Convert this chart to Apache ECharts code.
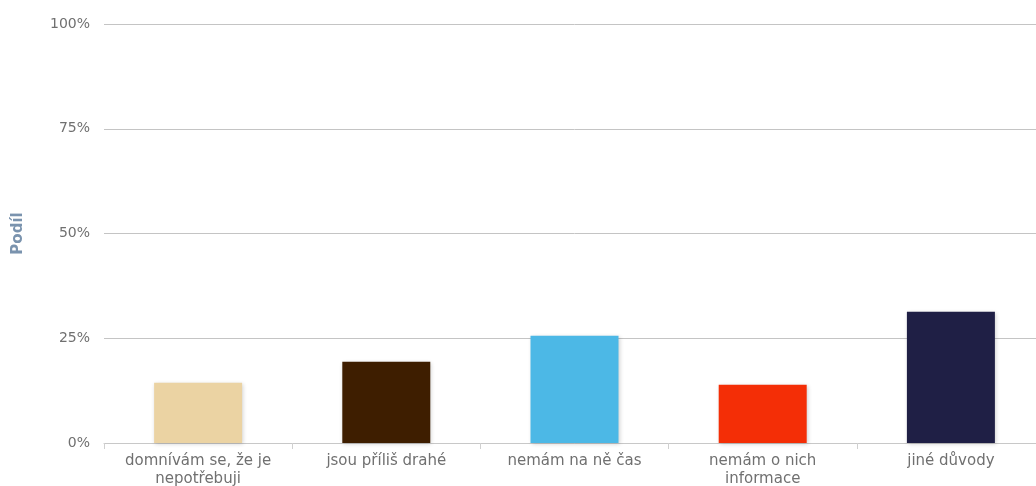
<!DOCTYPE html>
<html>
<head>
<meta charset="utf-8">
<style>
  html, body { margin: 0; padding: 0; background: #fff; overflow: hidden; }
  /* the plot area runs a few pixels past the right edge of the window */
  #chart { width: 1045px; height: 486px; }
</style>
<script src="https://cdn.jsdelivr.net/npm/echarts@6/dist/echarts.min.js"></script>
</head>
<body>
<div id="chart"></div>
<script>
// Reasons for not using the services (share of respondents, %)
const categories = [
  'domnívám se, že je\nnepotřebuji',
  'jsou příliš drahé',
  'nemám na ně čas',
  'nemám o nich\ninformace',
  'jiné důvody'
];
const shares = [14.4, 19.4, 25.6, 13.9, 31.3];
const barColors = ['#EBD3A3', '#3E1E00', '#4CB8E6', '#F42E06', '#1F1F45'];
const yTicks = [0, 25, 50, 75, 100];

const chart = echarts.init(document.getElementById('chart'));
chart.setOption({
  animation: false,
  textStyle: { fontFamily: 'DejaVu Sans' },
  grid: { left: 104, top: 24, right: 0, bottom: 43, outerBoundsMode: 'none' },
  xAxis: {
    type: 'category',
    data: categories,
    axisLine: { lineStyle: { color: '#C8C8C8', width: 1 } },
    axisTick: { show: true, length: 6, lineStyle: { color: '#D0D0D0' } },
    axisLabel: {
      color: '#707070', fontSize: 15, margin: 9, lineHeight: 18,
      interval: 0
    }
  },
  yAxis: {
    type: 'value',
    min: yTicks[0],
    max: yTicks[yTicks.length - 1],
    interval: 25,
    name: 'Podíl',
    nameLocation: 'middle',
    nameRotate: 90,
    nameGap: 78,
    nameTextStyle: { color: '#7A93AE', fontSize: 15, fontWeight: 'bold' },
    axisLine: { show: false },
    axisTick: { show: false },
    axisLabel: {
      color: '#707070', fontSize: 14, margin: 14, padding: [5, 0, 0, 0],
      formatter: v => v + '%'
    },
    splitLine: { lineStyle: { color: '#C4C4C4', width: 1 } }
  },
  series: [{
    type: 'bar',
    barWidth: 88,
    data: shares.map((v, i) => ({
      value: v,
      itemStyle: { color: barColors[i] }
    })),
    itemStyle: {
      shadowBlur: 4,
      shadowOffsetX: 1,
      shadowOffsetY: 1,
      shadowColor: 'rgba(0,0,0,0.18)'
    }
  }]
});
</script>
</body>
</html>
